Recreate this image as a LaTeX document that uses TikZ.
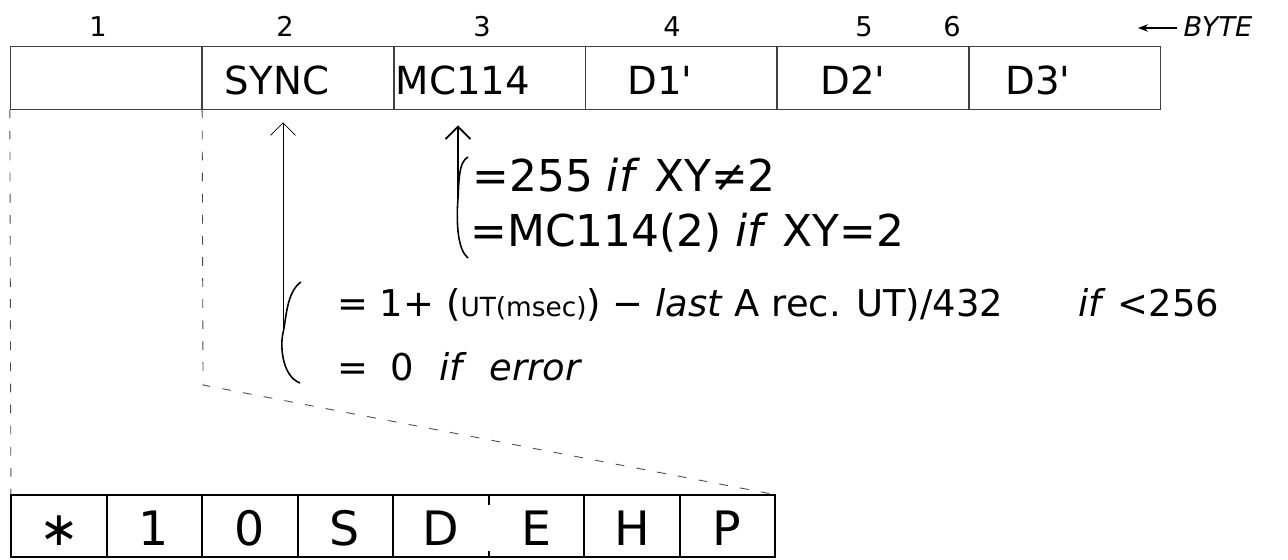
\documentclass[tikz,border=0pt]{standalone}
\usepackage{fontspec}
\setmainfont{DejaVu Sans}
\usetikzlibrary{arrows.meta, positioning, calc}
\tikzset{
    cellbox/.style={rectangle, draw=black!75, line width=0.5pt, minimum width=3.83cm, minimum height=1.26cm, inner sep=0pt},
    charbox/.style={rectangle, minimum width=1.91cm, minimum height=1.24cm, inner sep=0pt},
    celltext/.style={anchor=base, inner sep=0pt, font=\fontsize{22}{26}\selectfont},
    chartext/.style={anchor=base, inner sep=0pt, font=\fontsize{27}{32}\selectfont},
    bytenum/.style={anchor=base, inner sep=0pt, font=\fontsize{15.5}{18}\selectfont},
    eqtext/.style={anchor=base west, inner sep=0pt, font=\fontsize{25}{30}\selectfont},
    smalleq/.style={anchor=base west, inner sep=0pt, font=\fontsize{21}{25}\selectfont},
    charframe/.style={line width=1pt, draw=black},
    guide/.style={dashed, dash pattern=on 5pt off 7pt, line width=0.5pt, draw=black!70},
    arrow/.style={-{Straight Barb[length=2.5mm]}, draw=black},
    bracket/.style={line width=0.9pt, draw=black}
}

\begin{document}
\begin{tikzpicture}[x=0.02cm, y=-0.02cm]
    \useasboundingbox (0,0) rectangle (1288,560);
    % record bytes
    \foreach \i/\x in {1/106,2/298,3/490,4/681,5/873,6/1065}
        \node[cellbox] (b\i) at (\x,77.5) {};
    \foreach \i/\x/\txt in {2/277/SYNC,3/463/MC114,4/660/D1\textquotesingle,5/853/D2\textquotesingle,6/1038/D3\textquotesingle}
        \node[celltext] (t\i) at (\x,95) {\txt};
    \foreach \i/\x in {1/98,2/285,3/482,4/672,5/864,6/952}
        \node[bytenum] (n\i) at (\x,37) {\i};
    \node[bytenum] (byte) at (1218,37) {\itshape BYTE};
    \coordinate (bytetip) at (1138,28);
    \draw[-{Stealth[length=2mm]}, line width=0.8pt] (byte.west |- bytetip) ++(-6,0) -- (bytetip);
    % expanded first byte
    \foreach \i/\x/\ch in {1/59/∗,2/154/1,3/250/0,4/345/S,5/441/D,6/536/E,7/632/H,8/727/P}
        \node[charbox] (c\i) at (\x,526) {};
    \foreach \i/\x/\ch in {1/59/∗,2/154/1,3/250/0,4/345/S,5/441/D,6/536/E,7/632/H,8/727/P}
        \node[chartext] (ch\i) at (\x,545) {\ch};
    \draw[charframe] (c1.north west) rectangle (c8.south east);
    \foreach \i in {1,2,3,4,6,7}
        \draw[charframe] (c\i.north east) -- (c\i.south east);
    \draw[charframe] (c5.north east) -- ++(0,10);
    \draw[charframe] (c5.south east) -- ++(0,-6);
    \coordinate (kink) at (203,385);
    \draw[guide] (b1.south west) -- (c1.north west);
    \draw[guide] (b1.south east) -- (kink) -- (c8.north east);
    % SYNC value
    \coordinate (syncfoot) at (283,333);
    \draw[arrow, line width=0.4pt, shorten >=0.26cm] (syncfoot) -- (syncfoot |- b2.south);
    \draw[bracket] (301,282) .. controls (286,292) and (286,322) .. (syncfoot)
        .. controls (280,346) and (282,376) .. (300,383);
    \node[smalleq] (rate) at (337,317) {= 1+ ({\fontsize{15}{18}\selectfont UT(msec)}) − \textit{last} A rec. UT)/432};
    \node[smalleq] (limit) at (1078,317) {\textit{if} <256};
    \node[smalleq] (errcase) at (337,380) {=\hspace{0.6em}0\hspace{0.7em}\textit{if}\hspace{0.6em}\textit{error}};
    % MC114 value
    \coordinate (mcfoot) at (458,198);
    \draw[arrow, line width=1pt, shorten >=0.32cm] (mcfoot) -- (mcfoot |- b3.south);
    \draw[bracket] (468,157) .. controls (458,162) and (459,185) .. (mcfoot)
        .. controls (456,225) and (458,250) .. (468,258);
    \node[eqtext] (cond1) at (472,192) {=255 \textit{if} XY≠2};
    \node[eqtext] (cond2) at (470,247) {=MC114(2) \textit{if} XY=2};
\end{tikzpicture}
\end{document}
